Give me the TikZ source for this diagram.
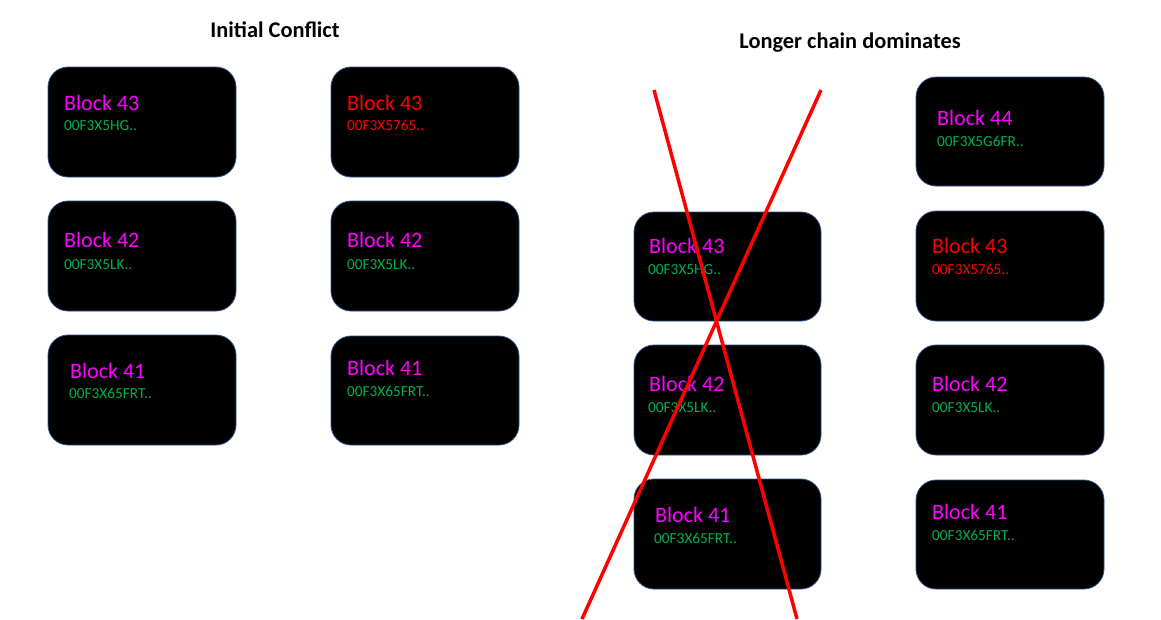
\documentclass[tikz,border=0pt]{standalone}
\usepackage{fontspec}
\setmainfont{Carlito}
\definecolor{blkborder}{HTML}{2F528F}
\definecolor{blkmag}{HTML}{FF00FF}
\definecolor{blkgreen}{HTML}{00B050}
\definecolor{blkred}{HTML}{FF0000}
\tikzset{
  blockbox/.style={draw=blkborder, line width=0.8pt, fill=black, rounded corners=20pt, inner sep=0pt},
  blocktitle/.style={anchor=base west, inner sep=0pt, font=\fontsize{22}{24}\selectfont, text=blkmag},
  blockhash/.style={anchor=base west, inner sep=0pt, font=\fontsize{15.3}{17}\selectfont, text=blkgreen},
  heading/.style={inner sep=0pt, font=\bfseries\fontsize{22.4}{26}\selectfont},
  cross/.style={draw=blkred, line width=3.5pt}
}
\begin{document}
\begin{tikzpicture}[x=1pt,y=-1pt]
\useasboundingbox (0,0) rectangle (1161,619);
% column 1
\draw[blockbox] (48,67) rectangle (236,177);
\draw[blockbox] (48,201) rectangle (236,311);
\draw[blockbox] (48,335) rectangle (236,445);
\node[blocktitle] (a43) at (64,110) {Block 43};
\node[blockhash] (a43h) at (64,130) {00F3X5HG..};
\node[blocktitle] (a42) at (64,247) {Block 42};
\node[blockhash] (a42h) at (64,269) {00F3X5LK..};
\node[blocktitle] (a41) at (70,378) {Block 41};
\node[blockhash] (a41h) at (69,398) {00F3X65FRT..};
% column 2
\draw[blockbox] (331,67) rectangle (519,177);
\draw[blockbox] (331,201) rectangle (519,311);
\draw[blockbox] (331,336) rectangle (519,445);
\node[blocktitle, text=blkred] (b43) at (347,110) {Block 43};
\node[blockhash, text=blkred] (b43h) at (347,130) {00F3X5765..};
\node[blocktitle] (b42) at (347,247) {Block 42};
\node[blockhash] (b42h) at (347,269) {00F3X5LK..};
\node[blocktitle] (b41) at (347,375) {Block 41};
\node[blockhash] (b41h) at (347,396) {00F3X65FRT..};
% column 3
\draw[blockbox] (634,212) rectangle (821,321);
\draw[blockbox] (634,345) rectangle (821,455);
\draw[blockbox] (634,479) rectangle (821,589);
\node[blocktitle] (c43) at (649,253) {Block 43};
\node[blockhash] (c43h) at (648,274) {00F3X5HG..};
\node[blocktitle] (c42) at (649,391) {Block 42};
\node[blockhash] (c42h) at (648,412) {00F3X5LK..};
\node[blocktitle] (c41) at (655,522) {Block 41};
\node[blockhash] (c41h) at (654,543) {00F3X65FRT..};
% column 4
\draw[blockbox] (916,77) rectangle (1104,186);
\draw[blockbox] (916,211) rectangle (1104,321);
\draw[blockbox] (916,345) rectangle (1104,455);
\draw[blockbox] (916,480) rectangle (1104,589);
\node[blocktitle] (d44) at (937,125) {Block 44};
\node[blockhash] (d44h) at (937,146) {00F3X5G6FR..};
\node[blocktitle, text=blkred] (d43) at (932,253) {Block 43};
\node[blockhash, text=blkred] (d43h) at (932,274) {00F3X5765..};
\node[blocktitle] (d42) at (932,391) {Block 42};
\node[blockhash] (d42h) at (932,412) {00F3X5LK..};
\node[blocktitle] (d41) at (932,519) {Block 41};
\node[blockhash] (d41h) at (932,540) {00F3X65FRT..};
% headings
\node[heading] (h1) at (275,30) {Initial Conflict};
\node[heading] (h2) at (850,43) {Longer chain dominates};
% cross
\coordinate (x1a) at (654,90);
\coordinate (x1b) at (797,619);
\coordinate (x2a) at (821,90);
\coordinate (x2b) at (582,619);
\draw[cross] (x1a) -- (x1b);
\draw[cross] (x2a) -- (x2b);
\end{tikzpicture}
\end{document}
